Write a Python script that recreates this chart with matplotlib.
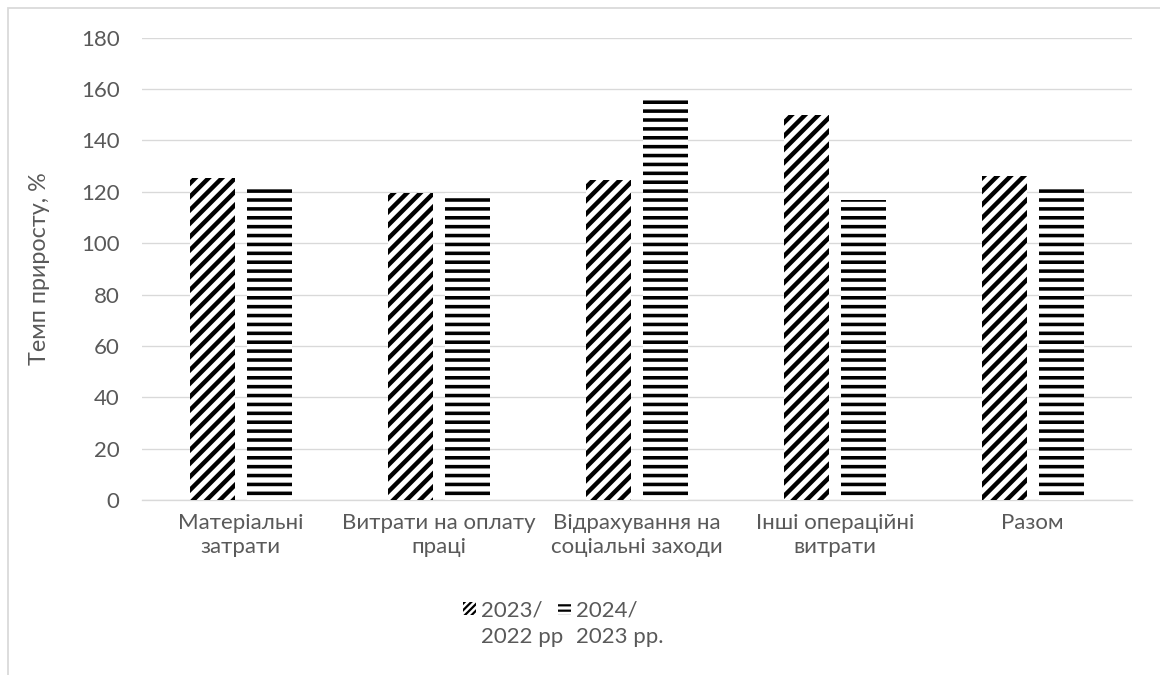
import matplotlib.pyplot as plt
import numpy as np
from matplotlib.patches import Rectangle, Patch

# Temp of growth by expense items
categories = ['Матеріальні\nзатрати', 'Витрати на оплату\nпраці',
              'Відрахування на\nсоціальні заходи', 'Інші операційні\nвитрати', 'Разом']
growth_2023 = [125.3, 119.7, 124.7, 150.0, 126.2]
growth_2024 = [123.1, 119.7, 156.2, 116.9, 123.1]
series_top = ['2023/', '2024/']
series_bottom = ['2022 рр', '2023 рр.']

grey = '#595959'
plt.rcParams['font.family'] = ['Lato', 'DejaVu Sans']

fig = plt.figure(figsize=(7.25, 4.21875), dpi=160)
ax = fig.add_axes([0.1222, 0.2593, 0.9756 - 0.1222, 0.9441 - 0.2593])

# outer chart frame
fig.patches.append(Rectangle((8 / 1160, -0.1), 1.2, 0.1 + 1 - 8 / 675, transform=fig.transFigure,
                             fill=False, edgecolor='#d9d9d9', lw=0.8))

x = np.arange(len(categories))
w = 0.228
off = 0.144
with plt.rc_context({'hatch.linewidth': 2.0}):
    ax.bar(x - off, growth_2023, w, facecolor='white', edgecolor='black', lw=0, hatch='////',
           zorder=3)
    h1 = Patch(facecolor='white', edgecolor='black', lw=0, hatch='////////')
with plt.rc_context({'hatch.linewidth': 1.6}):
    ax.bar(x + off, growth_2024, w, facecolor='white', edgecolor='black', lw=0, hatch='---',
           zorder=3)
    h2 = Patch(facecolor='white', edgecolor='black', lw=0, hatch='-----')

ax.set_xlim(-0.5, len(categories) - 0.5)
ax.set_ylim(0, 180)
ax.set_yticks(range(0, 181, 20))
ax.set_xticks(x)
ax.set_xticklabels(categories, color=grey, fontsize=10)
ax.tick_params(axis='y', colors=grey, labelsize=10, length=0, pad=10)
ax.tick_params(axis='x', length=0, pad=6)
ax.grid(axis='y', color='#d9d9d9', lw=0.6, zorder=0)
for s in ['top', 'right', 'left']:
    ax.spines[s].set_visible(False)
ax.spines['bottom'].set_color('#d9d9d9')
ax.spines['bottom'].set_linewidth(0.6)
ax.set_ylabel('Темп приросту, %', color=grey, fontsize=10.5, labelpad=14)

leg = fig.legend([h1, h2], series_top, loc='upper left',
                 bbox_to_anchor=(452 / 1160, 1 - 589 / 675), ncol=2,
                 frameon=False, fontsize=10, labelcolor=grey, handlelength=0.6, handleheight=0.55,
                 handletextpad=0.2, columnspacing=0.7, borderpad=0)

# second line of each legend label, placed under the first
fig.canvas.draw()
for t, s in zip(leg.get_texts(), series_bottom):
    bb = t.get_window_extent()
    fig.text(bb.x0 / fig.bbox.width, (bb.y0 - 27) / fig.bbox.height, s,
             color=grey, fontsize=10, ha='left', va='bottom')

fig.savefig('out.png', dpi=160)
